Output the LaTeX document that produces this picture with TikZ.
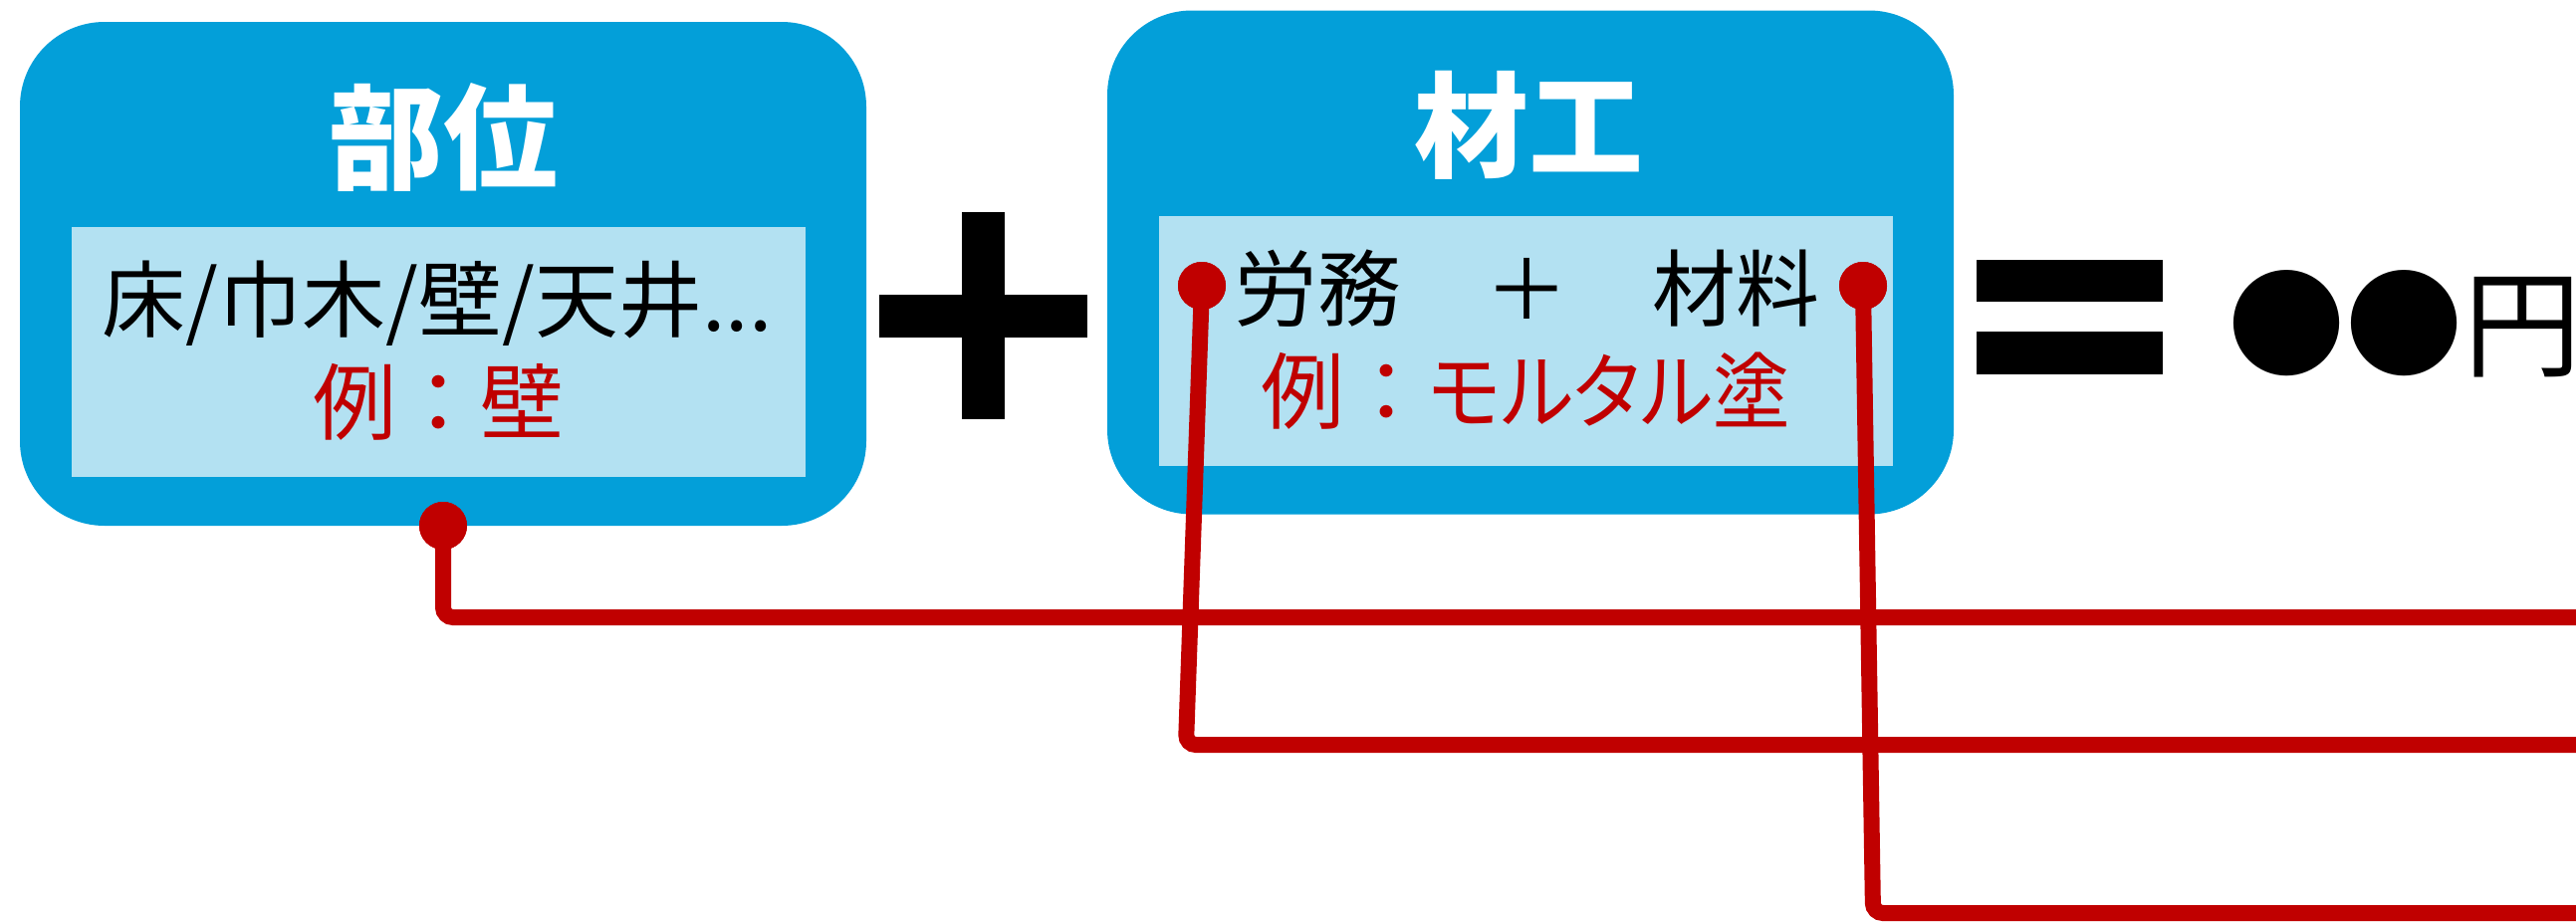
\documentclass[tikz,border=0pt]{standalone}
\usepackage{graphicx}
\usepackage{fontspec}
\newfontfamily\cjk{Noto Sans CJK JP}
\newfontfamily\cjkp{Noto Sans CJK JP}[RawFeature=+palt]
\definecolor{boxblue}{RGB}{3,159,217}
\definecolor{lightblue}{RGB}{179,225,242}
\definecolor{linered}{RGB}{192,0,0}
\tikzset{
  bluebox/.style={fill=boxblue, draw=none, rounded corners=8.5mm, minimum width=85mm, minimum height=50.6mm, inner sep=0pt},
  innerbox/.style={fill=lightblue, draw=none, minimum width=73.7mm, minimum height=25.1mm, inner sep=0pt},
  titletext/.style={text=white, inner sep=0pt, font=\cjk\bfseries\fontsize{32.7pt}{36pt}\selectfont},
  bodytext/.style={text=black, inner sep=0pt, font=\cjk\fontsize{23.9pt}{27pt}\selectfont},
  redtext/.style={text=linered, inner sep=0pt, font=\cjk\fontsize{23.9pt}{27pt}\selectfont},
  pin/.style={circle, fill=linered, draw=none, minimum size=4.8mm, inner sep=0pt},
  wire/.style={draw=linered, line width=1.6mm, rounded corners=1mm},
  opbar/.style={fill=black, draw=none}
}
\begin{document}
\begin{tikzpicture}[x=0.1mm, y=-0.1mm]
\useasboundingbox (0,0) rectangle (2587,925);
% box 1
\node[bluebox] (b1) at (445,275) {};
\node[innerbox] (i1) at (440.5,353) {};
\node[titletext] (t1) at (445,138) {部位};
\node[bodytext] (l1) at (439,305) {床/巾木/壁/天井...};
\node[redtext] (r1) at (440,404) {例：壁};
% plus
\fill[opbar] (883,296) rectangle (1092,339);
\fill[opbar] (966,213) rectangle (1009,421);
% box 2
\node[bluebox] (b2) at (1537,263.5) {};
\node[innerbox] (i2) at (1532.5,342.5) {};
\node[titletext] (t2) at (1535,126) {材工};
\node[bodytext] (l2) at (1533.5,290) {労務　＋　材料};
\node[redtext, anchor=west] (r2) at (1266,393) {例：\scalebox{0.92}[1]{\cjkp モルタル塗}};
% equals
\fill[opbar] (1985,261) rectangle (2172,303);
\fill[opbar] (1985,333) rectangle (2172,376);
\node[inner sep=0pt, font=\cjk\fontsize{33.6pt}{36pt}\selectfont] (price) at (2415,325) {●●円};
% pins and wires
\node[pin] (d1) at (445,528) {};
\node[pin] (d2) at (1207,287) {};
\node[pin] (d3) at (1871,287) {};
\coordinate (c2) at (1191,748);
\coordinate (c3) at (1881,917);
\coordinate (e1) at (2620,620);
\coordinate (e2) at (2620,748);
\coordinate (e3) at (2620,917);
\draw[wire] (d1.center) |- (e1);
\draw[wire] (d2.center) -- (c2) -- (e2);
\draw[wire] (d3.center) -- (c3) -- (e3);
\node[pin] at (d1) {};
\node[pin] at (d2) {};
\node[pin] at (d3) {};
\end{tikzpicture}
\end{document}
